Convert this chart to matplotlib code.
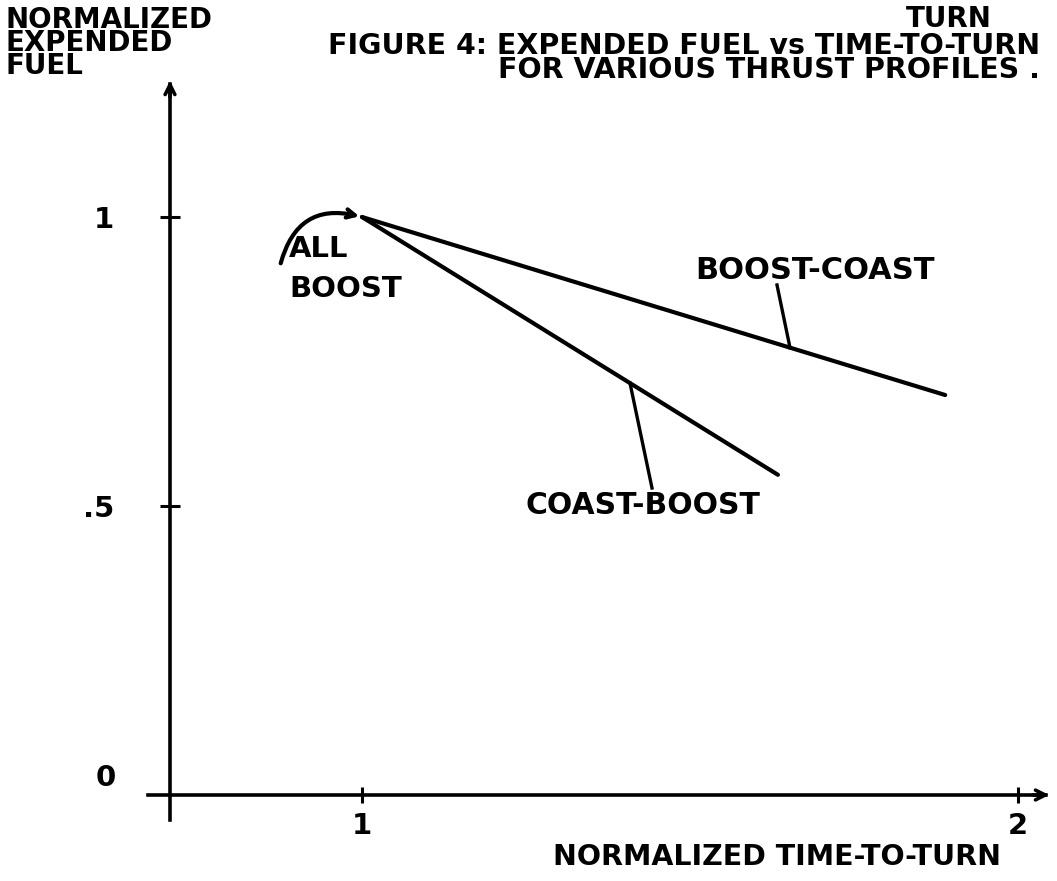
import numpy as np
import matplotlib.pyplot as plt

plt.rcParams['font.family'] = ['DejaVu Sans']
plt.rcParams['font.weight'] = 'bold'

# Data (normalized time-to-turn, normalized expended fuel)
all_boost = (1.0, 1.0)
boost_coast_x = [1.0, 1.889]
boost_coast_y = [1.0, 0.692]
coast_boost_x = [1.0, 1.634]
coast_boost_y = [1.0, 0.554]

x_ticks = [1, 2]
x_tick_labels = ['1', '2']
y_ticks = [0.5, 1]
y_tick_labels = ['.5', '1']

W, H = 1057, 881
fig = plt.figure(figsize=(W / 100, H / 100), dpi=100)
ax = fig.add_axes([0, 0, 1, 1])

# pixel helpers (layout only)
def px(x):
    return 1 + (x - 362) / 656.0

def py(y):
    return (795 - y) / 578.0

ax.set_xlim(px(0), px(W))
ax.set_ylim(py(H), py(0))

lw = 3.0
ax.spines['top'].set_visible(False)
ax.spines['right'].set_visible(False)
ax.spines['left'].set_position(('data', px(170)))
ax.spines['bottom'].set_position(('data', 0))
ax.spines['left'].set_bounds(py(820), py(84))
ax.spines['bottom'].set_bounds(px(148), px(1046))
ax.spines['left'].set_linewidth(2.6)
ax.spines['bottom'].set_linewidth(2.6)

# arrow heads on the axes
ax.annotate('', xy=(px(1052), 0), xytext=(px(1030), 0),
            arrowprops=dict(arrowstyle='->,head_length=0.7,head_width=0.35', lw=2.6, color='black'))
ax.annotate('', xy=(px(170), py(78)), xytext=(px(170), py(100)),
            arrowprops=dict(arrowstyle='->,head_length=0.7,head_width=0.35', lw=2.6, color='black'))

ax.set_xticks(x_ticks, x_tick_labels)
ax.set_yticks(y_ticks, y_tick_labels)
ax.tick_params(axis='x', direction='inout', length=12, width=2.2, pad=6, labelsize=21)
ax.tick_params(axis='y', direction='inout', length=14, width=2.2, pad=33, labelsize=21)
ax.text(px(106), py(778), '0', ha='center', va='center', fontsize=21)

# curves
ax.plot(boost_coast_x, boost_coast_y, color='black', lw=lw, solid_capstyle='round')
ax.plot(coast_boost_x, coast_boost_y, color='black', lw=lw, solid_capstyle='round')

# all boost arrow
ax.annotate('', xy=all_boost, xytext=(px(280), py(266)),
            arrowprops=dict(arrowstyle='->,head_length=0.6,head_width=0.3', lw=lw,
                            color='black', connectionstyle='arc3,rad=-0.5'))
ax.text(px(289), py(235), 'ALL\nBOOST', ha='left', va='top', fontsize=21, linespacing=1.55)

# leaders
bc_x = px(790)
bc_y = np.interp(bc_x, boost_coast_x, boost_coast_y)
ax.plot([px(777), bc_x], [py(285), bc_y], color='black', lw=2.4)
ax.text(px(815), py(270), 'BOOST-COAST', ha='center', va='center', fontsize=22)

cb_x = px(630)
cb_y = np.interp(cb_x, coast_boost_x, coast_boost_y)
ax.plot([cb_x, px(652)], [cb_y, py(488)], color='black', lw=2.4)
ax.text(px(643), py(505), 'COAST-BOOST', ha='center', va='center', fontsize=21.5)

# axis titles
fig.text(5 / W, 1 - 6 / H, 'NORMALIZED\nEXPENDED\nFUEL', ha='left', va='top',
         fontsize=20, linespacing=0.78)
fig.text(777 / W, 1 - 857 / H, 'NORMALIZED TIME-TO-TURN', ha='center', va='center', fontsize=20.5)

# figure caption
fig.text(949 / W, 1 - 19 / H, 'TURN', ha='center', va='center', fontsize=20)
fig.text(1040 / W, 1 - 32 / H,
         'FIGURE 4: EXPENDED FUEL vs TIME-TO-TURN\nFOR VARIOUS THRUST PROFILES .',
         ha='right', va='top', multialignment='right', fontsize=20.5, linespacing=0.8)

fig.savefig('out.png', dpi=100, facecolor='white')
